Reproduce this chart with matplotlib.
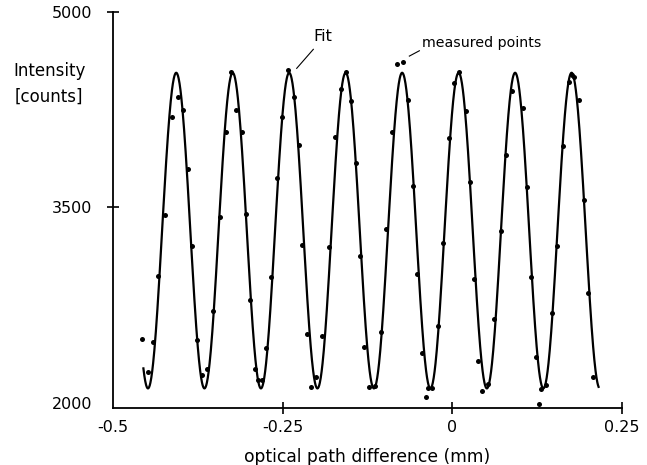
import numpy as np
import matplotlib.pyplot as plt

plt.rcParams['font.family'] = ['DejaVu Sans']

# Measured points (optical path difference in mm, intensity in counts)
x_meas = [-0.4580, -0.4409, -0.4491, -0.4335, -0.4232, -0.4137, -0.4049, -0.3970,
          -0.3892, -0.3833, -0.3760, -0.3695, -0.3612, -0.3524, -0.3429, -0.3336,
          -0.3263, -0.3189, -0.3100, -0.3041, -0.2982, -0.2913, -0.2860, -0.2810,
          -0.2751, -0.2673, -0.2589, -0.2506, -0.2417, -0.2329, -0.2255, -0.2211,
          -0.2137, -0.2083, -0.2009, -0.1916, -0.1822, -0.1729, -0.1645, -0.1571,
          -0.1493, -0.1423, -0.1360, -0.1296, -0.1227, -0.1139, -0.1050, -0.0976,
          -0.0888, -0.0810, -0.0721, -0.0647, -0.0578, -0.0515, -0.0450, -0.0391,
          -0.0361, -0.0302, -0.0209, -0.0131, -0.0047, 0.0027, 0.0100, 0.0199,
          0.0263, 0.0314, 0.0385, 0.0444, 0.0524, 0.0621, 0.0715, 0.0794,
          0.0882, 0.1049, 0.1108, 0.1162, 0.1240, 0.1285, 0.1310, 0.1383,
          0.1468, 0.1550, 0.1630, 0.1723, 0.1763, 0.1797, 0.1875, 0.1948,
          0.2003, 0.2081]
y_meas = [2486, 2468, 2235, 2975, 3441, 4191, 4345, 4247,
          3792, 3205, 2481, 2210, 2256, 2706, 3428, 4081,
          4537, 4250, 4081, 3446, 2788, 2256, 2174, 2174,
          2417, 2965, 3727, 4196, 4557, 4345, 3979, 3213,
          2525, 2120, 2199, 2514, 3193, 4042, 4406, 4541,
          4319, 3843, 3124, 2425, 2120, 2125, 2542, 3331,
          4081, 4598, 4618, 4324, 3666, 2990, 2381, 2045,
          2110, 2110, 2586, 3223, 4035, 4452, 4541, 4242,
          3692, 2952, 2317, 2091, 2141, 2640, 3316, 3902,
          4396, 4260, 3658, 2962, 2353, 1989, 2102, 2133,
          2686, 3205, 3971, 4465, 4516, 4503, 4324, 3554,
          2842, 2194]

# Fit parameters
fit_mean = 3322
fit_amp = 1212
fit_period = 0.0833
fit_peak0 = -0.4071
fit_start, fit_end = -0.4555, 0.2158

xticks = [-0.5, -0.25, 0, 0.25]
xtick_labels = ['-0.5', '-0.25', '0', '0.25']
yticks = [2000, 3500, 5000]

fig = plt.figure(figsize=(6.47, 4.65), dpi=100)
ax = fig.add_axes([0.175, 0.123, 0.786, 0.851])

xf = np.linspace(fit_start, fit_end, 1500)
yf = fit_mean + fit_amp * np.cos(2 * np.pi * (xf - fit_peak0) / fit_period)
ax.plot(xf, yf, color='black', lw=1.6)
ax.plot(x_meas, y_meas, 'o', color='black', ms=3.6, mec='none')

ax.set_xlim(-0.5, 0.25)
ax.set_ylim(1961, 5000)
ax.set_xticks(xticks)
ax.set_xticklabels(xtick_labels)
ax.set_yticks(yticks)
ax.tick_params(direction='inout', length=8, width=1.2, labelsize=11.5)
ax.tick_params(axis='y', pad=11)
ax.tick_params(axis='x', pad=5)
ax.yaxis.get_major_ticks()[0].tick1line.set_visible(False)
ax.xaxis.get_major_ticks()[0].tick1line.set_visible(False)

for s in ['top', 'right']:
    ax.spines[s].set_visible(False)
for s in ['left', 'bottom']:
    ax.spines[s].set_linewidth(1.3)

ax.set_xlabel('optical path difference (mm)', fontsize=12.3, labelpad=9)
fig.text(0.020, 0.848, 'Intensity', fontsize=12, va='center', ha='left')
fig.text(0.023, 0.791, '[counts]', fontsize=12, va='center', ha='left')

# Annotations
ax.text(-0.1913, 4810, 'Fit', fontsize=11.5, ha='center', va='center')
ax.plot([-0.2049, -0.2294], [4714, 4568], color='black', lw=0.8)
ax.text(-0.0450, 4764, 'measured points', fontsize=10.2, ha='left', va='center')
ax.plot([-0.0485, -0.0633], [4703, 4662], color='black', lw=0.8)

fig.savefig('out.png', dpi=100)
